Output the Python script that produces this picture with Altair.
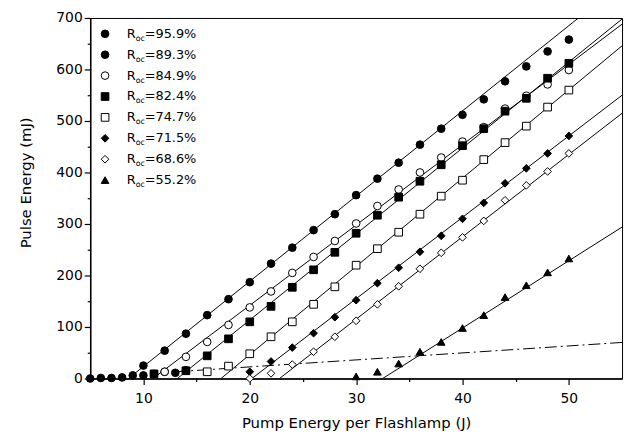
import altair as alt
import pandas as pd

# ---------------- data ----------------
labels = ["95.9%", "89.3%", "84.9%", "82.4%", "74.7%", "71.5%", "68.6%", "55.2%"]
shapes = ["circle", "circle", "circle", "square", "square", "diamond", "diamond", "triangle-up"]
fills = ["black", "black", "white", "black", "white", "black", "white", "black"]
sizes = [60, 60, 60, 55, 55, 105, 105, 70]

x_959 = [5, 6, 7, 8, 9, 10, 12, 14, 16, 18, 20, 22, 24, 26, 28, 30, 32, 34, 36, 38, 40, 42, 44, 46, 48, 50]
y_959 = [0, 1, 1, 2, 6, 25, 54, 87, 123, 154, 187, 223, 254, 288, 319, 356, 388, 419, 454, 485, 512, 542, 577, 606, 635, 658]

x_893 = [10, 11, 12, 13, 14]
y_893 = [6, 9, 13, 11, 16]

x_849 = [12, 14, 16, 18, 20, 22, 24, 26, 28, 30, 32, 34, 36, 38, 40, 42, 44, 46, 48, 50]
y_849 = [13, 42, 71, 104, 138, 169, 205, 236, 267, 301, 335, 367, 400, 429, 460, 488, 524, 549, 571, 599]

x_824 = [11, 14, 16, 18, 20, 22, 24, 26, 28, 30, 32, 34, 36, 38, 40, 42, 44, 46, 48, 50]
y_824 = [9, 15, 44, 77, 110, 140, 177, 211, 245, 282, 317, 352, 383, 415, 452, 485, 519, 544, 583, 612]

x_747 = [16, 18, 20, 22, 24, 26, 28, 30, 32, 34, 36, 38, 40, 42, 44, 46, 48, 50]
y_747 = [13, 24, 48, 81, 110, 144, 178, 220, 252, 284, 319, 354, 385, 425, 458, 490, 527, 560]

x_715 = [20, 22, 24, 26, 28, 30, 32, 34, 36, 38, 40, 42, 44, 46, 48, 50]
y_715 = [13, 33, 60, 88, 119, 152, 185, 215, 246, 277, 310, 341, 379, 408, 437, 471]

x_686 = [20, 22, 24, 26, 28, 30, 32, 34, 36, 38, 40, 42, 44, 46, 48, 50]
y_686 = [0, 10, 27, 52, 81, 112, 144, 179, 213, 244, 274, 306, 346, 375, 402, 437]

x_552 = [30, 32, 34, 36, 38, 40, 42, 44, 46, 48, 50]
y_552 = [4, 13, 29, 52, 71, 98, 123, 158, 181, 206, 233]

# fitted straight lines: start and end points
fit_series = ["95.9%", "84.9%", "82.4%", "74.7%", "71.5%", "68.6%", "55.2%"]
fit_x0 = [8.6, 10.9, 13.2, 17.3, 20.2, 22.8, 32.5]
fit_y0 = [0, 0, 0, 0, 0, 0, 0]
fit_x1 = [50.9, 55, 55, 55, 55, 55, 55]
fit_y1 = [700, 688, 698, 646, 550, 515, 294]

# dash-dot line
dd_x = [13, 55]
dd_y = [13, 70]

# ---------------- tables ----------------
series_x = [x_959, x_893, x_849, x_824, x_747, x_715, x_686, x_552]
series_y = [y_959, y_893, y_849, y_824, y_747, y_715, y_686, y_552]
rows = []
for lab, xs_, ys_ in zip(labels, series_x, series_y):
    for a, b in zip(xs_, ys_):
        rows.append({"series": lab, "x": a, "y": b})
pts = pd.DataFrame(rows)

lrows = []
for s, a0, b0, a1, b1 in zip(fit_series, fit_x0, fit_y0, fit_x1, fit_y1):
    lrows.append({"series": s, "x": a0, "y": b0, "o": 0})
    lrows.append({"series": s, "x": a1, "y": b1, "o": 1})
fits = pd.DataFrame(lrows)

dd = pd.DataFrame({"x": dd_x, "y": dd_y})

# legend rows, placed in the plot's own units (layout only)
W, H = 537, 364
XMIN, XMAX, YMIN, YMAX = 5, 55, 0, 700
leg = pd.DataFrame({
    "series": labels,
    "val": ["=" + l for l in labels],
    "x": [XMIN + 15 * (XMAX - XMIN) / W] * len(labels),
    "y": [YMAX - (16 + 21.1 * i) * (YMAX - YMIN) / H for i in range(len(labels))],
})

# ---------------- encodings ----------------
FONT = "DejaVu Sans"
xs = alt.Scale(domain=[XMIN, XMAX], nice=False, zero=False)
ys = alt.Scale(domain=[YMIN, YMAX], nice=False, zero=False)

x_axis = alt.Axis(
    values=list(range(10, 55, 5)),
    labelExpr="datum.value % 10 === 0 ? datum.label : ''",
    tickSize={"condition": {"test": "datum.value % 10 === 0", "value": 6}, "value": 3},
    title="Pump Energy per Flashlamp (J)",
    titleY=45, titleBaseline="middle",
    labelPadding=7, grid=False,
)
y_axis = alt.Axis(
    values=list(range(0, 750, 50)),
    labelExpr="datum.value % 100 === 0 ? datum.label : ''",
    tickSize={"condition": {"test": "datum.value % 100 === 0", "value": 6}, "value": 3},
    title="Pulse Energy (mJ)",
    titleX=-65, titleY=166, titleAngle=270, titleBaseline="middle",
    labelPadding=2, grid=False,
)

X = alt.X("x:Q", scale=xs, axis=x_axis)
Y = alt.Y("y:Q", scale=ys, axis=y_axis)

shape_enc = alt.Shape("series:N", scale=alt.Scale(domain=labels, range=shapes), legend=None)
fill_enc = alt.Fill("series:N", scale=alt.Scale(domain=labels, range=fills), legend=None)
size_enc = alt.Size("series:N", scale=alt.Scale(domain=labels, range=sizes), legend=None)

lines = alt.Chart(fits).mark_line(color="black", strokeWidth=1, clip=True).encode(
    x=X, y=Y, detail="series:N", order="o:Q"
)
dash = alt.Chart(dd).mark_line(color="black", strokeWidth=1, strokeDash=[12, 4, 2, 4], clip=True).encode(
    x=X, y=Y
)
points = alt.Chart(pts).mark_point(filled=True, stroke="black", strokeWidth=1, opacity=1).encode(
    x=X, y=Y, shape=shape_enc, fill=fill_enc, size=size_enc
)

leg_pts = alt.Chart(leg).mark_point(filled=True, stroke="black", strokeWidth=1, opacity=1).encode(
    x=X, y=Y, shape=shape_enc, fill=fill_enc, size=size_enc
)
leg_R = alt.Chart(leg).mark_text(text="R", align="left", baseline="middle", dx=22, fontSize=13,
                                 font=FONT, color="black").encode(x=X, y=Y)
leg_oc = alt.Chart(leg).mark_text(text="oc", align="left", baseline="middle", dx=31, dy=5, fontSize=8,
                                  font=FONT, color="black").encode(x=X, y=Y)
leg_val = alt.Chart(leg).mark_text(align="left", baseline="middle", dx=40, fontSize=13,
                                   font=FONT, color="black").encode(x=X, y=Y, text="val:N")

chart = alt.layer(lines, dash, points, leg_pts, leg_R, leg_oc, leg_val).properties(
    width=W, height=H,
    autosize=alt.AutoSizeParams(type="none"),
    padding={"left": 83, "top": 8, "right": 5, "bottom": 56},
).configure_view(
    stroke="black", strokeWidth=1
).configure_axis(
    domainColor="black", domainWidth=1.5, tickColor="black", tickWidth=1.2,
    labelColor="black", titleColor="black", labelFont=FONT, titleFont=FONT,
    labelFontSize=14, titleFontSize=15, titleFontWeight="normal",
)

chart.save("out.html", embed_options={"renderer": "svg", "actions": False})
